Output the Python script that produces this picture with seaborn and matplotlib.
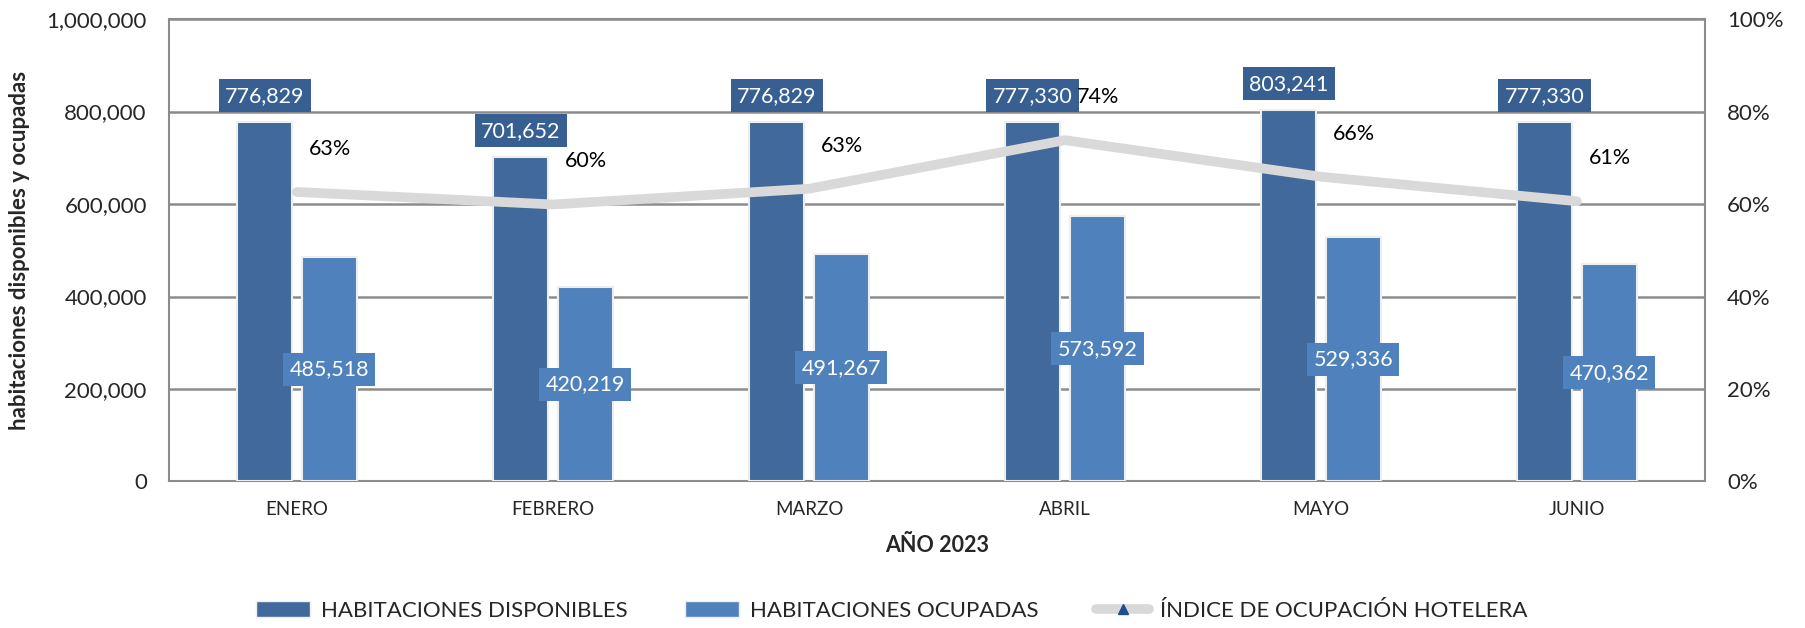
import pandas as pd
import numpy as np
import matplotlib
matplotlib.use("Agg")
import matplotlib.pyplot as plt
import matplotlib.ticker as mtick
from matplotlib.patches import Patch
from matplotlib.lines import Line2D
import seaborn as sns

# -----------------------------
# Data
# -----------------------------
meses = ["ENERO", "FEBRERO", "MARZO", "ABRIL", "MAYO", "JUNIO"]
disponibles = [776829, 701652, 776829, 777330, 803241, 777330]
ocupadas = [485518, 420219, 491267, 573592, 529336, 470362]
ocupacion = [0.626, 0.599, 0.633, 0.738, 0.659, 0.606]

serie_disp = "HABITACIONES DISPONIBLES"
serie_ocup = "HABITACIONES OCUPADAS"
serie_ind = "ÍNDICE DE OCUPACIÓN HOTELERA"

c_disp = "#41699b"
c_disp_lab = "#375f91"
c_ocup = "#4f81bd"
c_line = "#d9d9d9"
c_grid = "#8c8c8c"

df = pd.DataFrame({
    "mes": meses * 2,
    "valor": disponibles + ocupadas,
    "serie": [serie_disp] * len(meses) + [serie_ocup] * len(meses),
})

# -----------------------------
# Style
# -----------------------------
sns.set_style("white")
plt.rcParams["font.family"] = ["Lato", "DejaVu Sans"]

fig, ax = plt.subplots(figsize=(18.06, 6.28), dpi=100)
fig.subplots_adjust(left=0.0936, right=0.944, top=0.9697, bottom=0.2333)

sns.barplot(
    data=df, x="mes", y="valor", hue="serie",
    order=meses, hue_order=[serie_disp, serie_ocup],
    palette=[c_disp, c_ocup], saturation=1, width=0.504, gap=0.15,
    edgecolor="#eeeeee", linewidth=1.5, legend=False, ax=ax, zorder=3
)

ax.set_ylim(0, 1000000)
ax.set_xlim(-0.5, 5.5)
ax.yaxis.set_major_locator(mtick.MultipleLocator(200000))
ax.yaxis.set_major_formatter(mtick.StrMethodFormatter("{x:,.0f}"))
ax.grid(axis="y", color=c_grid, linewidth=1.8, zorder=0)
ax.set_axisbelow(True)
for s in ax.spines.values():
    s.set_color(c_grid)
    s.set_linewidth(1.5)
ax.tick_params(axis="y", length=0, labelsize=16, pad=16)
ax.tick_params(axis="x", length=0, labelsize=13.5, pad=14)
ax.set_ylabel("habitaciones disponibles y ocupadas", fontsize=16,
              fontweight="bold", labelpad=12)
ax.set_xlabel("AÑO 2023", fontsize=15.5, fontweight="bold", labelpad=12)

# value labels
for bar in ax.containers[0]:
    x = bar.get_x() + bar.get_width() / 2
    h = bar.get_height()
    ax.annotate(f"{h:,.0f}", xy=(x, h), xytext=(0, 19), textcoords="offset points",
                ha="center", va="center", color="white", fontsize=15.5, zorder=6,
                bbox=dict(boxstyle="square,pad=0.3", fc=c_disp_lab, ec="none"))
for bar in ax.containers[1]:
    x = bar.get_x() + bar.get_width() / 2
    h = bar.get_height()
    ax.annotate(f"{h:,.0f}", xy=(x, h / 2), ha="center", va="center",
                color="white", fontsize=15.5, zorder=6,
                bbox=dict(boxstyle="square,pad=0.3", fc=c_ocup, ec="none"))

# -----------------------------
# Occupancy line (right axis)
# -----------------------------
ax2 = ax.twinx()
sns.lineplot(x=np.arange(len(meses)), y=ocupacion, ax=ax2, color=c_line,
             linewidth=7, solid_capstyle="round")
ax2.set_ylim(0, 1)
ax2.set_xlim(-0.5, 5.5)
ax2.yaxis.set_major_locator(mtick.MultipleLocator(0.2))
ax2.yaxis.set_major_formatter(mtick.PercentFormatter(1.0, decimals=0))
ax2.tick_params(axis="y", length=0, labelsize=16, pad=16)
ax2.set_ylabel("")
for s in ax2.spines.values():
    s.set_visible(False)

for i, v in enumerate(ocupacion):
    ax2.annotate(f"{v:.0%}", xy=(i, v), xytext=(24, 31), textcoords="offset points",
                 ha="center", va="center", fontsize=15.5, color="black")

# -----------------------------
# Legend
# -----------------------------
handles = [
    Patch(facecolor=c_disp, edgecolor="#eeeeee"),
    Patch(facecolor=c_ocup, edgecolor="#eeeeee"),
    Line2D([0], [0], color=c_line, linewidth=7, marker="^", markersize=7,
           markerfacecolor="#1f4e8c", markeredgecolor="#1f4e8c"),
]
fig.legend(handles, [serie_disp, serie_ocup, serie_ind], loc="center",
           bbox_to_anchor=(0.494, 0.027), ncol=3, frameon=False, fontsize=16,
           columnspacing=2.6, handlelength=2.4, handletextpad=0.5)

plt.savefig("out.png", dpi=100)
